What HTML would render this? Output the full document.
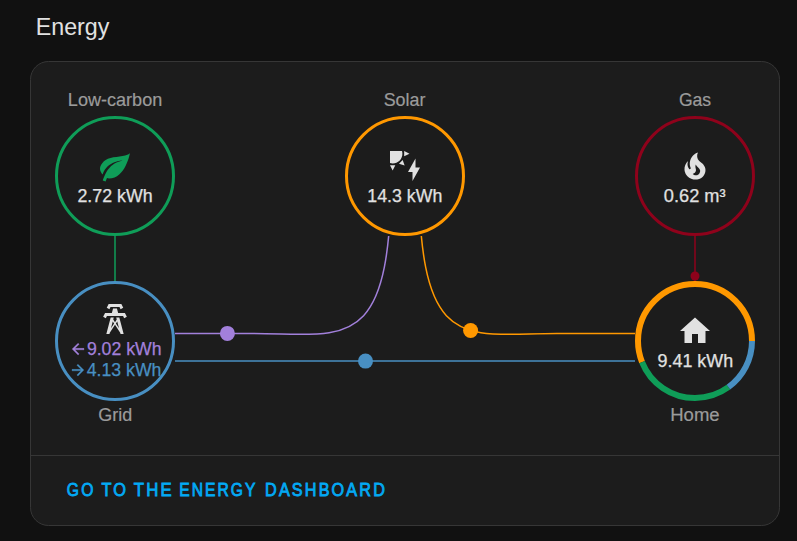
<!DOCTYPE html>
<html><head><meta charset="utf-8">
<style>
html,body{margin:0;padding:0;background:#111111;width:797px;height:541px;overflow:hidden;}
svg{display:block;font-family:"Liberation Sans",sans-serif;}
</style></head>
<body>
<svg width="797" height="541" viewBox="0 0 797 541">
  <rect x="0" y="0" width="797" height="541" fill="#111111"/>
  <!-- title -->
  <text id="t-energy" x="35.71" y="35" font-size="24" fill="#e1e1e1" textLength="73.63" lengthAdjust="spacingAndGlyphs">Energy</text>
  <!-- card -->
  <rect x="30.5" y="61.5" width="749" height="464" rx="18" ry="18" fill="#1c1c1c" stroke="#363636" stroke-width="1"/>
  <line x1="31" y1="455.5" x2="779" y2="455.5" stroke="#363636" stroke-width="1"/>

  <!-- lines -->
  <line x1="115" y1="230" x2="115" y2="290" stroke="#0f9d58" stroke-width="1.5"/>
  <line x1="695" y1="230" x2="695" y2="290" stroke="#8e021b" stroke-width="1.5"/>
  <clipPath id="cb"><rect x="175" y="236" width="460" height="264"/></clipPath>
  <g clip-path="url(#cb)"><g transform="translate(175,103.4) scale(4.6)" fill="none" stroke-width="1.5">
    <path d="M47,0 v15 c0,40 -10,35 -30,35 h-20" stroke="#a280db" vector-effect="non-scaling-stroke"/>
    <path d="M53,0 v15 c0,40 10,35 30,35 h25" stroke="#ff9800" vector-effect="non-scaling-stroke"/>
    <path d="M-2,56 H102" stroke="#488fc2" vector-effect="non-scaling-stroke"/>
  </g></g>
  <!-- dots -->
  <circle cx="227.4" cy="333.4" r="7.5" fill="#a280db"/>
  <circle cx="365.5" cy="361.1" r="7.5" fill="#488fc2"/>
  <circle cx="470.6" cy="330.5" r="7.5" fill="#ff9800"/>
  <circle cx="695" cy="276" r="4.5" fill="#8e021b"/>

  <!-- circles -->
  <circle cx="115" cy="176" r="58.5" fill="#1c1c1c" stroke="#0f9d58" stroke-width="3"/>
  <circle cx="405" cy="176" r="58.5" fill="#1c1c1c" stroke="#ff9800" stroke-width="3"/>
  <circle cx="695" cy="176" r="58.5" fill="#1c1c1c" stroke="#8e021b" stroke-width="3"/>
  <circle cx="115" cy="341" r="58.5" fill="#1c1c1c" stroke="#488fc2" stroke-width="3"/>
  <circle cx="695" cy="341" r="60" fill="#1c1c1c"/>
  <!-- home segments: circumference 2*pi*57 = 358.14 -->
  <circle cx="695" cy="341" r="57" fill="none" stroke="#ff9800" stroke-width="6" stroke-dasharray="200.9 157.24" stroke-dashoffset="-157.24"/>
  <circle cx="695" cy="341" r="57" fill="none" stroke="#0f9d58" stroke-width="6" stroke-dasharray="103.5 254.64" stroke-dashoffset="-53.72"/>
  <circle cx="695" cy="341" r="57" fill="none" stroke="#488fc2" stroke-width="6" stroke-dasharray="53.72 304.42" stroke-dashoffset="0"/>

  <!-- icons -->
  <path transform="translate(97,148.5) scale(1.5)" fill="#0f9d58" d="M17,8C8,10 5.9,16.17 3.82,21.34L5.71,22L6.66,19.7C7.14,19.87 7.64,20 8,20C19,20 22,3 22,3C21,5 14,5.25 9,6.25C4,7.25 2,11.5 2,13.5C2,15.5 3.75,17.25 3.75,17.25C7,8 17,8 17,8Z"/>
  <path transform="translate(387,148) scale(1.5)" fill="#e1e1e1" d="M11.45,2V5.55L15,3.77L11.45,2M10.45,8L8,10.46L11.75,11.71L10.45,8M2,11.45L3.77,15L5.55,11.45H2M10,2H2V10C2.57,10.17 3.17,10.25 3.77,10.25C7.35,10.26 10.26,7.35 10.27,3.75C10.26,3.16 10.17,2.57 10,2M17,22V16H14L19,7V13H22L17,22Z"/>
  <path transform="translate(677,148) scale(1.5)" fill="#e1e1e1" d="M17.66 11.2C17.43 10.9 17.15 10.64 16.89 10.38C16.22 9.78 15.46 9.35 14.82 8.72C13.33 7.26 13 4.85 13.950 3C13 3.23 12.17 3.75 11.46 4.32C8.87 6.4 7.85 10.07 9.07 13.22C9.11 13.32 9.15 13.42 9.15 13.55C9.15 13.77 9 13.97 8.8 14.05C8.57 14.15 8.33 14.09 8.14 13.93C8.08 13.88 8.04 13.83 8 13.760C6.87 12.33 6.69 10.28 7.45 8.64C5.78 10 4.87 12.3 5 14.47C5.06 14.97 5.12 15.47 5.29 15.97C5.43 16.57 5.7 17.17 6 17.7C7.08 19.43 8.950 20.67 10.96 20.92C13.1 21.19 15.39 20.8 17.03 19.32C18.86 17.66 19.5 15 18.56 12.72L18.43 12.46C18.22 12 17.66 11.2 17.66 11.2M14.5 17.5C14.22 17.74 13.76 18 13.4 18.1C12.28 18.5 11.16 17.94 10.5 17.28C11.69 17 12.4 16.12 12.61 15.23C12.78 14.43 12.46 13.77 12.33 13C12.21 12.26 12.23 11.63 12.5 10.940C12.69 11.32 12.89 11.7 13.13 12C13.9 13 15.11 13.44 15.37 14.8C15.41 14.94 15.43 15.08 15.43 15.23C15.46 16.05 15.1 16.95 14.5 17.5H14.5Z"/>
  <path transform="translate(97,301) scale(1.5)" fill="#e1e1e1" d="M8.28,5.45L6.5,4.55L7.76,2H16.23L17.5,4.55L15.72,5.44L15,4H9L8.28,5.45M18.62,8H14.09L13.3,5H10.7L9.91,8H5.38L4.1,10.55L5.89,11.44L6.62,10H17.38L18.1,11.45L19.89,10.56L18.62,8M17.77,22H15.7L15.46,21.1L12,15.9L8.53,21.1L8.3,22H6.23L9.12,11H11.19L10.83,12.35L12,14.1L13.16,12.35L12.81,11H14.88L17.77,22M11.4,15L10.5,13.65L9.32,18.13L11.4,15M14.68,18.12L13.5,13.64L12.6,15L14.68,18.12Z"/>
  <path transform="translate(677,313) scale(1.5)" fill="#e1e1e1" d="M10,20V14H14V20H19V12H22L12,3L2,12H5V20H10Z"/>
  <path transform="translate(69,340.1) scale(0.75)" fill="#a280db" stroke="#a280db" stroke-width="0.4" d="M20,11V13H8L13.5,18.5L12.08,19.92L4.16,12L12.08,4.08L13.5,5.5L8,11H20Z"/>
  <path transform="translate(69,361.1) scale(0.75)" fill="#488fc2" stroke="#488fc2" stroke-width="0.4" d="M4,11V13H16L10.5,18.5L11.92,19.92L19.84,12L11.92,4.08L10.5,5.5L16,11H4Z"/>

  <!-- labels -->
  <g font-size="18" fill="#9b9b9b" stroke="#9b9b9b" stroke-width="0.2">
    <text id="t-low" x="67.87" y="106" textLength="94.39" lengthAdjust="spacingAndGlyphs">Low-carbon</text>
    <text id="t-solar" x="383.65" y="106" textLength="41.74" lengthAdjust="spacingAndGlyphs">Solar</text>
    <text id="t-gas" x="678.88" y="106" textLength="32.26" lengthAdjust="spacingAndGlyphs">Gas</text>
    <text id="t-grid" x="98.36" y="421" textLength="33.94" lengthAdjust="spacingAndGlyphs">Grid</text>
    <text id="t-home" x="670.19" y="421" textLength="49.43" lengthAdjust="spacingAndGlyphs">Home</text>
  </g>
  <!-- values -->
  <g font-size="18" fill="#e1e1e1" stroke="#e1e1e1" stroke-width="0.25">
    <text id="v-272" x="77.45" y="201.5" textLength="75.26" lengthAdjust="spacingAndGlyphs">2.72 kWh</text>
    <text id="v-143" x="367.29" y="202" textLength="75.03" lengthAdjust="spacingAndGlyphs">14.3 kWh</text>
    <text id="v-062" x="663.89" y="201.5" textLength="61.69" lengthAdjust="spacingAndGlyphs">0.62 m³</text>
    <text id="v-941" x="657.49" y="366.5" textLength="75.7" lengthAdjust="spacingAndGlyphs">9.41 kWh</text>
  </g>
  <text id="v-902" x="86.88" y="355" textLength="74.69" lengthAdjust="spacingAndGlyphs" font-size="18" fill="#a280db" stroke="#a280db" stroke-width="0.25">9.02 kWh</text>
  <text id="v-413" x="86.67" y="376" textLength="74.8" lengthAdjust="spacingAndGlyphs" font-size="18" fill="#488fc2" stroke="#488fc2" stroke-width="0.25">4.13 kWh</text>

  <!-- button -->
  <g font-size="18" fill="#03a9f4" stroke="#03a9f4" stroke-width="0.85" lengthAdjust="spacingAndGlyphs">
    <text id="b-go" x="66.85" y="496" textLength="28.6" lengthAdjust="spacingAndGlyphs" letter-spacing="2.4">GO</text>
    <text id="b-to" x="101.43" y="496" textLength="26.75" lengthAdjust="spacingAndGlyphs" letter-spacing="2.4">TO</text>
    <text id="b-the" x="133.84" y="496" textLength="40.17" lengthAdjust="spacingAndGlyphs" letter-spacing="2.4">THE</text>
    <text id="b-energy" x="179.13" y="496" textLength="78.48" lengthAdjust="spacingAndGlyphs" letter-spacing="2.4">ENERGY</text>
    <text id="b-dash" x="265.06" y="496" textLength="121.95" lengthAdjust="spacingAndGlyphs" letter-spacing="2.4">DASHBOARD</text>
  </g>
</svg>
</body></html>
